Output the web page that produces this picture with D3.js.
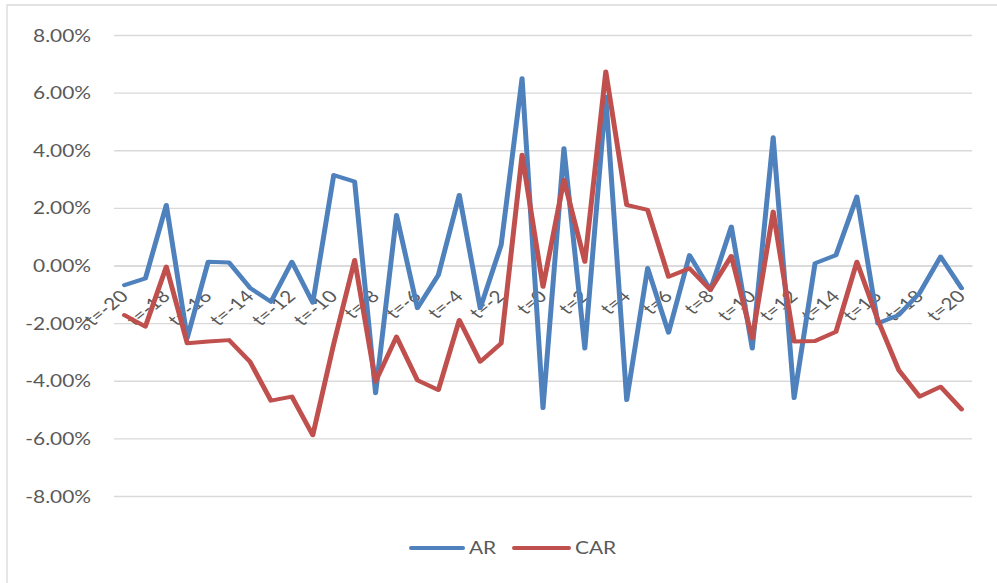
<!DOCTYPE html>
<html><head><meta charset="utf-8">
<script src="https://cdn.jsdelivr.net/npm/d3@7"></script>
<style>
html,body{margin:0;padding:0;background:#fff;}
text{font-family:Lato,"Open Sans",sans-serif;fill:#595959;}
</style></head>
<body><svg id="c" width="997" height="583"></svg>
<script>
const categories = d3.range(-20, 21).map(t => "t=" + t);
const arValues = [-0.68,-0.45,2.10,-2.52,0.13,0.10,-0.78,-1.26,0.13,-1.29,
  3.14,2.91,-4.43,1.75,-1.48,-0.33,2.45,-1.48,0.71,6.50,
  -4.95,4.07,-2.88,5.86,-4.67,-0.09,-2.33,0.36,-0.85,1.35,
  -2.88,4.45,-4.60,0.08,0.36,2.39,-2.01,-1.72,-0.95,0.31,-0.79];
const carValues = [-1.72,-2.12,-0.04,-2.70,-2.64,-2.59,-3.34,-4.69,-4.55,-5.89,
  -2.72,0.19,-4.03,-2.47,-3.98,-4.32,-1.89,-3.34,-2.70,3.84,
  -0.74,2.97,0.13,6.73,2.10,1.93,-0.39,-0.10,-0.85,0.33,
  -2.53,1.87,-2.64,-2.62,-2.30,0.13,-1.89,-3.63,-4.55,-4.21,-4.99];
const yTicks = [-8,-6,-4,-2,0,2,4,6,8];
const seriesNames = ["AR","CAR"];
const seriesColors = ["#4F81BD","#C0504D"];

(function () {
const svg = d3.select("#c");
const SX = 1.25; // horizontal stretch seen in the reference
const plotLeft = 114, plotRight = 972, plotTop = 35, plotBottom = 496;

// outer border (top + left visible)
svg.append("path").attr("d", "M7,583V5H997").attr("fill","none").attr("stroke","#d9d9d9").attr("stroke-width",1.3);

const x = d3.scaleBand().domain(categories).range([plotLeft, plotRight]).padding(0);
const y = d3.scaleLinear().domain([-8, 8]).range([plotBottom, plotTop]);

// y axis with gridlines
const yAxis = svg.append("g").attr("transform", `translate(${plotLeft},0)`)
  .call(d3.axisLeft(y).tickValues(yTicks).tickSize(-(plotRight-plotLeft)).tickPadding(0)
    .tickFormat(d => d.toFixed(2) + "%"));
yAxis.select(".domain").remove();
yAxis.selectAll(".tick line").attr("stroke","#d9d9d9").attr("stroke-width",1.3);
yAxis.selectAll(".tick text").attr("x", null).attr("dy","0.36em")
  .attr("text-anchor","end").attr("font-size","16.7px")
  .attr("transform", `translate(-23,0) scale(${SX},1)`);

// x axis at zero
const xAxis = svg.append("g").attr("transform", `translate(0,${y(0)})`)
  .call(d3.axisBottom(x).tickSize(0).tickPadding(0)
    .tickFormat((d, i) => i % 2 === 0 ? d : ""));
xAxis.select(".domain").attr("stroke","#d9d9d9").attr("stroke-width",1.3);
xAxis.selectAll(".tick text").attr("y", null).attr("dy", null)
  .attr("text-anchor","end").attr("font-size","16.7px")
  .attr("transform", `translate(5,32) scale(${SX},1) rotate(-45)`);

// lines, drawn in an unstretched frame then stretched like the reference
const lineG = svg.append("g").attr("transform", `scale(${SX},1)`);
const line = d3.line().x((d, i) => (x(categories[i]) + x.bandwidth()/2) / SX).y(d => y(d));
[arValues, carValues].forEach((vals, k) => {
  lineG.append("path").datum(vals).attr("d", line).attr("fill","none")
    .attr("stroke", seriesColors[k]).attr("stroke-width",4)
    .attr("stroke-linejoin","round").attr("stroke-linecap","round");
});

// legend
const legendY = 548;
const legendItems = [{x0:411, x1:463, tx:469}, {x0:514, x1:569, tx:575}];
legendItems.forEach((it, k) => {
  svg.append("line").attr("x1", it.x0).attr("x2", it.x1).attr("y1", legendY).attr("y2", legendY)
    .attr("stroke", seriesColors[k]).attr("stroke-width",4).attr("stroke-linecap","round");
  svg.append("text").attr("transform", `translate(${it.tx},${legendY}) scale(${SX},1)`)
    .attr("dy","0.36em").attr("font-size","16.7px").text(seriesNames[k]);
});
})();
</script></body></html>
